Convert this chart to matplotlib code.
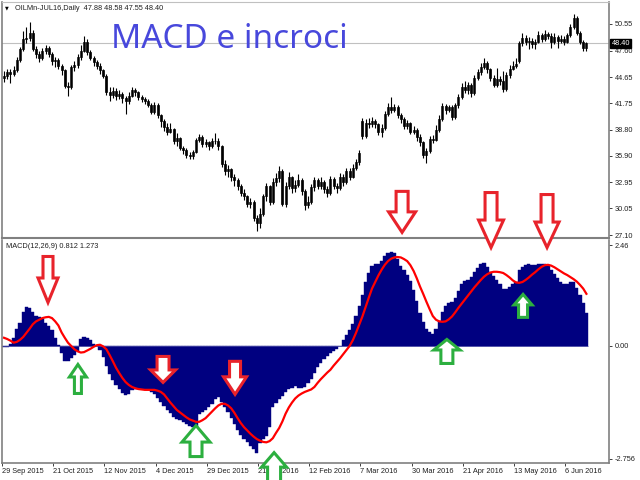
import matplotlib
matplotlib.use("Agg")
import matplotlib.pyplot as plt
from matplotlib.patches import Polygon
from matplotlib import transforms
import numpy as np

plt.rcParams['font.family'] = ['Liberation Sans', 'DejaVu Sans']

# daily OHLC, OILMn-JUL16 (29 Sep 2015 .. 10 Jun 2016)
closes = [
    44.8, 45.2, 45.0, 45.4, 46.6, 47.8, 48.9, 49.0, 49.6, 47.8,
    47.2, 46.8, 47.6, 47.9, 47.2, 46.4, 46.6, 45.9, 45.4, 43.7,
    43.6, 45.8, 46.0, 46.9, 47.6, 48.6, 47.4, 46.8, 46.3, 45.9,
    45.4, 44.8, 43.0, 42.7, 43.1, 42.5, 42.8, 42.3, 42.0, 42.6,
    43.2, 43.0, 42.4, 42.2, 42.0, 41.6, 40.8, 41.6, 40.4, 39.8,
    39.1, 38.6, 38.9, 37.5, 37.9, 36.8, 36.5, 36.0, 35.9, 36.3,
    37.7, 38.0, 37.2, 37.4, 37.0, 37.5, 37.6, 37.0, 35.0, 34.2,
    34.4, 33.5, 33.2, 32.5, 31.8, 31.4, 30.6, 30.8, 29.0, 28.4,
    29.4, 31.4, 32.5, 30.8, 33.0, 33.4, 34.2, 30.6, 32.6, 33.5,
    32.3, 32.7, 33.2, 32.0, 30.4, 30.8, 32.4, 33.2, 32.6, 33.0,
    32.2, 31.8, 33.3, 32.6, 32.3, 33.6, 33.0, 34.2, 33.6, 34.6,
    35.2, 36.2, 38.1, 39.6, 39.4, 39.8, 39.4, 38.6, 39.0, 40.6,
    41.3, 41.0, 41.3, 40.4, 40.0, 39.2, 39.5, 38.6, 38.8, 38.0,
    37.4, 36.0, 36.4, 37.8, 37.7, 38.8, 40.0, 41.4, 41.0, 41.3,
    40.2, 41.5, 42.4, 43.6, 43.2, 43.8, 42.9, 44.6, 45.2, 45.8,
    46.2, 45.5, 44.6, 43.8, 44.4, 44.2, 43.3, 44.9, 45.6, 45.9,
    46.1, 48.4, 49.0, 48.6, 48.7, 48.3, 48.6, 49.3, 48.9, 49.4,
    49.2, 48.6, 49.1, 48.7, 48.9, 48.6, 49.3, 50.2, 51.2, 49.6,
    48.6, 47.9, 48.40,
]
highs = [
    45.3, 45.6, 45.5, 45.9, 46.9, 48.0, 49.8, 50.2, 50.8, 49.9,
    48.1, 47.5, 47.9, 48.2, 48.1, 47.4, 46.9, 46.8, 46.1, 45.6,
    44.1, 46.0, 46.4, 47.2, 48.2, 49.2, 48.9, 47.7, 47.0, 46.5,
    46.2, 45.6, 45.0, 43.5, 43.6, 43.4, 43.2, 43.0, 42.6, 43.0,
    43.5, 43.4, 43.1, 42.7, 42.4, 42.2, 41.8, 41.9, 41.8, 40.6,
    40.0, 39.6, 39.6, 39.0, 38.4, 38.0, 37.0, 36.8, 36.3, 36.6,
    37.9, 38.3, 38.2, 37.8, 37.6, 37.9, 38.4, 37.9, 37.1, 35.4,
    34.9, 34.6, 33.9, 33.4, 32.8, 32.2, 31.6, 31.2, 31.0, 29.3,
    30.1, 31.7, 32.9, 32.7, 33.4, 34.0, 34.8, 34.4, 33.0, 34.1,
    33.7, 33.2, 33.9, 33.4, 32.2, 31.4, 32.8, 33.6, 33.4, 33.5,
    33.2, 32.5, 33.7, 33.5, 32.9, 34.0, 33.9, 34.6, 34.5, 35.0,
    35.6, 36.6, 40.1, 40.0, 40.1, 40.2, 40.0, 39.6, 39.4, 40.9,
    41.8, 42.4, 41.7, 41.5, 40.7, 40.2, 39.9, 39.7, 39.2, 39.0,
    38.3, 37.6, 36.8, 38.1, 38.2, 39.3, 40.4, 41.8, 41.7, 41.6,
    41.5, 41.8, 42.8, 44.0, 44.2, 44.1, 44.0, 44.9, 45.6, 46.2,
    46.8, 46.4, 45.7, 44.9, 45.7, 44.8, 45.3, 45.2, 46.0, 46.4,
    46.8, 48.7, 49.5, 49.3, 49.1, 49.0, 48.9, 49.8, 49.6, 49.9,
    49.7, 49.5, 49.5, 49.3, 49.3, 49.2, 49.6, 50.5, 51.7, 51.4,
    49.8, 48.8, 48.58,
]
lows = [
    44.1, 44.4, 44.0, 44.8, 45.2, 46.3, 47.6, 48.4, 48.7, 47.5,
    46.8, 46.3, 46.6, 47.2, 46.9, 46.0, 45.8, 45.5, 44.9, 43.4,
    42.5, 43.3, 45.3, 45.7, 46.6, 47.4, 47.1, 46.5, 45.9, 45.5,
    45.0, 44.5, 42.7, 42.0, 42.3, 42.1, 42.2, 41.8, 40.5, 41.7,
    42.4, 42.5, 42.1, 41.9, 41.7, 41.3, 40.5, 40.6, 40.1, 39.1,
    38.7, 38.2, 38.4, 37.2, 37.0, 36.5, 36.1, 35.7, 35.5, 35.6,
    36.2, 37.4, 36.9, 36.9, 36.6, 36.8, 37.2, 36.6, 34.7, 33.8,
    33.6, 33.1, 32.6, 32.1, 31.4, 31.0, 30.2, 30.1, 28.7, 27.5,
    27.9, 29.2, 30.9, 30.4, 30.6, 32.6, 33.0, 30.3, 30.2, 32.2,
    31.8, 31.9, 32.4, 31.6, 29.9, 30.1, 30.6, 32.0, 32.2, 32.2,
    31.8, 31.3, 31.6, 32.2, 31.8, 32.1, 32.6, 32.8, 33.2, 33.4,
    34.3, 34.9, 37.8, 37.9, 39.0, 39.1, 39.0, 38.2, 38.0, 38.8,
    40.3, 40.7, 40.8, 40.1, 39.6, 38.9, 38.9, 38.3, 38.3, 37.6,
    37.0, 35.7, 35.1, 36.2, 37.3, 37.5, 38.6, 39.8, 40.6, 40.8,
    39.9, 40.0, 41.2, 42.2, 42.9, 42.8, 42.4, 42.7, 44.3, 44.9,
    45.5, 45.1, 44.2, 43.5, 43.6, 43.8, 43.0, 43.1, 44.6, 45.4,
    45.7, 46.2, 48.1, 48.2, 47.8, 47.9, 47.8, 48.4, 48.6, 48.7,
    48.9, 47.9, 48.3, 47.9, 48.4, 48.2, 48.4, 49.1, 50.0, 49.3,
    48.3, 47.6, 47.55,
]
first_open = 44.5
open_gaps = {112: 39.8, 161: 46.4, 182: 47.88}

# MACD(12,26,9): histogram = main line, red = signal
macd_main = [
    -0.02, -0.02, 0.05, 0.20, 0.41, 0.56, 0.83, 0.95, 0.93, 0.83,
    0.72, 0.70, 0.66, 0.57, 0.48, 0.38, 0.20, 0.02, -0.16, -0.36,
    -0.37, -0.30, -0.22, -0.12, 0.16, 0.23, 0.20, 0.14, 0.06, 0.00,
    -0.10, -0.26, -0.48, -0.68, -0.82, -0.96, -1.05, -1.14, -1.20, -1.17,
    -1.08, -1.06, -1.05, -1.05, -1.06, -1.07, -1.12, -1.17, -1.26, -1.36,
    -1.46, -1.55, -1.64, -1.73, -1.77, -1.80, -1.85, -1.90, -1.95, -1.98,
    -2.02, -1.66, -1.60, -1.55, -1.48, -1.42, -1.30, -1.24, -1.36, -1.50,
    -1.60, -1.75, -1.90, -2.05, -2.17, -2.27, -2.33, -2.43, -2.52, -2.60,
    -2.37, -2.28, -2.20, -1.98, -1.50, -1.40, -1.30, -1.22, -1.12, -1.06,
    -1.02, -0.98, -1.02, -1.03, -0.99, -0.90, -0.80, -0.66, -0.52, -0.42,
    -0.32, -0.24, -0.17, -0.12, -0.07, 0.00, 0.15, 0.28, 0.40, 0.53,
    0.72, 0.98, 1.25, 1.55, 1.78, 1.95, 2.00, 2.00, 2.08, 2.20,
    2.27, 2.30, 2.28, 2.12, 1.95, 1.86, 1.72, 1.58, 1.36, 1.10,
    0.80, 0.58, 0.42, 0.34, 0.29, 0.42, 0.62, 0.83, 0.98, 1.04,
    1.08, 1.18, 1.35, 1.50, 1.58, 1.60, 1.68, 1.80, 1.90, 2.00,
    2.03, 1.92, 1.80, 1.70, 1.60, 1.50, 1.38, 1.40, 1.45, 1.50,
    1.55, 1.85, 1.93, 1.97, 2.00, 1.98, 1.97, 2.00, 2.00, 1.99,
    1.95, 1.85, 1.75, 1.66, 1.56, 1.50, 1.52, 1.55, 1.56, 1.42,
    1.24, 1.05, 0.812,
]
macd_signal = [
    0.20, 0.17, 0.13, 0.08, 0.10, 0.15, 0.22, 0.32, 0.42, 0.53,
    0.60, 0.64, 0.68, 0.70, 0.71, 0.68, 0.60, 0.50, 0.33, 0.20,
    0.08, 0.00, -0.08, -0.13, -0.16, -0.15, -0.11, -0.07, -0.02, 0.02,
    0.03, -0.01, -0.08, -0.22, -0.37, -0.53, -0.66, -0.78, -0.88, -0.95,
    -1.00, -1.03, -1.05, -1.06, -1.07, -1.07, -1.07, -1.07, -1.09, -1.12,
    -1.18, -1.28, -1.38, -1.47, -1.56, -1.62, -1.68, -1.74, -1.79, -1.82,
    -1.85, -1.85, -1.81, -1.76, -1.68, -1.60, -1.52, -1.45, -1.41, -1.41,
    -1.45, -1.52, -1.63, -1.76, -1.88, -1.98, -2.06, -2.14, -2.21, -2.27,
    -2.31, -2.34, -2.35, -2.32, -2.25, -2.12, -2.00, -1.84, -1.65, -1.50,
    -1.38, -1.28, -1.21, -1.16, -1.12, -1.09, -1.06, -1.00, -0.90, -0.81,
    -0.73, -0.65, -0.58, -0.48, -0.39, -0.30, -0.20, -0.10, 0.00, 0.14,
    0.32, 0.52, 0.72, 0.95, 1.18, 1.40, 1.56, 1.72, 1.86, 1.98,
    2.07, 2.13, 2.16, 2.17, 2.16, 2.12, 2.07, 1.97, 1.83, 1.65,
    1.45, 1.27, 1.08, 0.90, 0.73, 0.64, 0.60, 0.59, 0.60, 0.65,
    0.72, 0.82, 0.93, 1.03, 1.13, 1.23, 1.33, 1.43, 1.52, 1.61,
    1.69, 1.75, 1.79, 1.81, 1.81, 1.80, 1.78, 1.73, 1.67, 1.60,
    1.55, 1.54, 1.56, 1.61, 1.67, 1.74, 1.80, 1.87, 1.93, 1.97,
    1.98, 1.96, 1.92, 1.87, 1.82, 1.77, 1.73, 1.68, 1.63, 1.57,
    1.49, 1.40, 1.273,
]

date_labels = ['29 Sep 2015', '21 Oct 2015', '12 Nov 2015', '4 Dec 2015',
               '29 Dec 2015', '21 Jan 2016', '12 Feb 2016', '7 Mar 2016',
               '30 Mar 2016', '21 Apr 2016', '13 May 2016', '6 Jun 2016']
price_ticks = [50.55, 47.60, 44.65, 41.75, 38.80, 35.90, 32.95, 30.05, 27.10]
macd_ticks = [2.46, 0.0, -2.756]
macd_tick_labels = ['2.46', '0.00', '-2.756']

# hand drawn arrows: (bar, macd value of tip, length, head length, head width, shaft width) in px
red_arrows = [(13.75, 1.00, 50, 27, 23, 13), (49.7, -0.95, 30, 15, 28, 15),
              (72.2, -1.24, 37, 20, 26, 14), (124.4, 2.71, 45, 23, 30, 15),
              (152.2, 2.34, 59, 30, 28, 15), (169.7, 2.34, 57, 28, 27, 15)]
green_arrows = [(23.1, -0.39, 33, 15, 20, 10), (60.0, -1.88, 35, 19, 31, 15),
                (84.4, -2.54, 35, 17, 28, 16), (138.4, 0.22, 28, 13, 29, 15),
                (162.2, 1.32, 27, 13, 21, 12)]

n = len(closes)
idx = np.arange(n)
c = np.array(closes)
o = np.array([first_open] + closes[:-1])
for k, v in open_gaps.items():
    o[k] = v

fig = plt.figure(figsize=(6.4, 4.8), dpi=100)
ax1 = fig.add_axes([2 / 640, 1 - 238 / 480, 607 / 640, 236 / 480])
ax2 = fig.add_axes([2 / 640, 1 - 463 / 480, 607 / 640, 223 / 480])
xlim = (-0.625, 189.06)

# price panel
up = c >= o
ax1.vlines(idx, lows, highs, color='black', lw=0.8)
ax1.bar(idx, np.maximum(np.abs(c - o), 0.08), bottom=np.minimum(o, c), width=0.62,
        color=np.where(up, '#a0a0a0', 'black'), edgecolor='black', linewidth=0.5)
ax1.axhline(closes[-1], color='#c0c0c0', lw=0.8, zorder=0)
ax1.set_xlim(*xlim)
ax1.set_ylim(26.77, 52.99)
ax1.set_xticks([])
ax1.yaxis.tick_right()
ax1.set_yticks(price_ticks)
ax1.set_yticklabels(['%.2f' % t for t in price_ticks])
ax1.text(1.004, closes[-1], '%.2f' % closes[-1], transform=ax1.get_yaxis_transform(),
         fontsize=5.3, color='white', va='center', ha='left', clip_on=False,
         bbox=dict(boxstyle='square,pad=0.15', fc='black', ec='black'), zorder=10)

# macd panel
ax2.bar(idx, macd_main, width=1.0, color='#000080', edgecolor='#000080', linewidth=0.3)
ax2.hlines(0, -0.5, n - 0.5, color='#4040a0', lw=0.6)
ax2.plot(idx, macd_signal, color='#ff0000', lw=1.6)
ax2.set_xlim(*xlim)
ax2.set_ylim(-2.854, 2.585)
ax2.yaxis.tick_right()
ax2.set_yticks(macd_ticks)
ax2.set_yticklabels(macd_tick_labels)
ax2.set_xticks([16 * k - 0.6 for k in range(len(date_labels))])
ax2.set_xticklabels(date_labels, ha='left')

for ax in (ax1, ax2):
    for s in ax.spines.values():
        s.set_color('#808080')
        s.set_linewidth(1.2)
    ax.tick_params(axis='y', length=2.5, width=0.6, pad=1.5, labelsize=5.3, colors='#202020')
    ax.tick_params(axis='x', length=2.5, width=0.6, pad=1, labelsize=5.3, colors='#202020')
ax1.spines['top'].set_color('#c0c0c0')
ax1.spines['top'].set_linewidth(0.8)
ax1.spines['bottom'].set_linewidth(1.5)
ax2.spines['top'].set_visible(False)


def arrow(ax, x, y, length, head_len, head_w, shaft_w, color, pointing_up):
    # shape built in pixels around the tip, stroke kept inside the measured outline
    t, L, hl = 2.5, length - 1.5, head_len
    hw, sw = (head_w - 3) / 2, (shaft_w - 3) / 2
    pts = [(0, t), (hw, hl), (sw, hl), (sw, L), (-sw, L), (-sw, hl), (-hw, hl)]
    sign = -1 if pointing_up else 1
    pts = [(px / 100, sign * py / 100) for px, py in pts]
    tr = fig.dpi_scale_trans + transforms.ScaledTranslation(x, y, ax.transData)
    ax.add_patch(Polygon(pts, closed=True, facecolor='white', edgecolor=color, lw=2.2,
                         joinstyle='miter', transform=tr, clip_on=False, zorder=20))


for a in red_arrows:
    arrow(ax2, *a, color='#e8232b', pointing_up=False)
for a in green_arrows:
    arrow(ax2, *a, color='#2caf3f', pointing_up=True)

fig.text(5 / 640, 1 - 8 / 480, '\u25bc', fontsize=3.5, va='center', family='DejaVu Sans')
fig.text(15 / 640, 1 - 8 / 480, 'OILMn-JUL16,Daily  47.88 48.58 47.55 48.40',
         fontsize=5.3, va='center', color='#202020')
fig.text(6 / 640, 1 - 247 / 480, 'MACD(12,26,9) 0.812 1.273',
         fontsize=5.3, va='center', color='#202020')
fig.text(111 / 640, 1 - 48 / 480, 'MACD e incroci', fontsize=24, color='#4848dc',
         family='Noto Sans', va='baseline')

fig.savefig('out.png', dpi=100)
